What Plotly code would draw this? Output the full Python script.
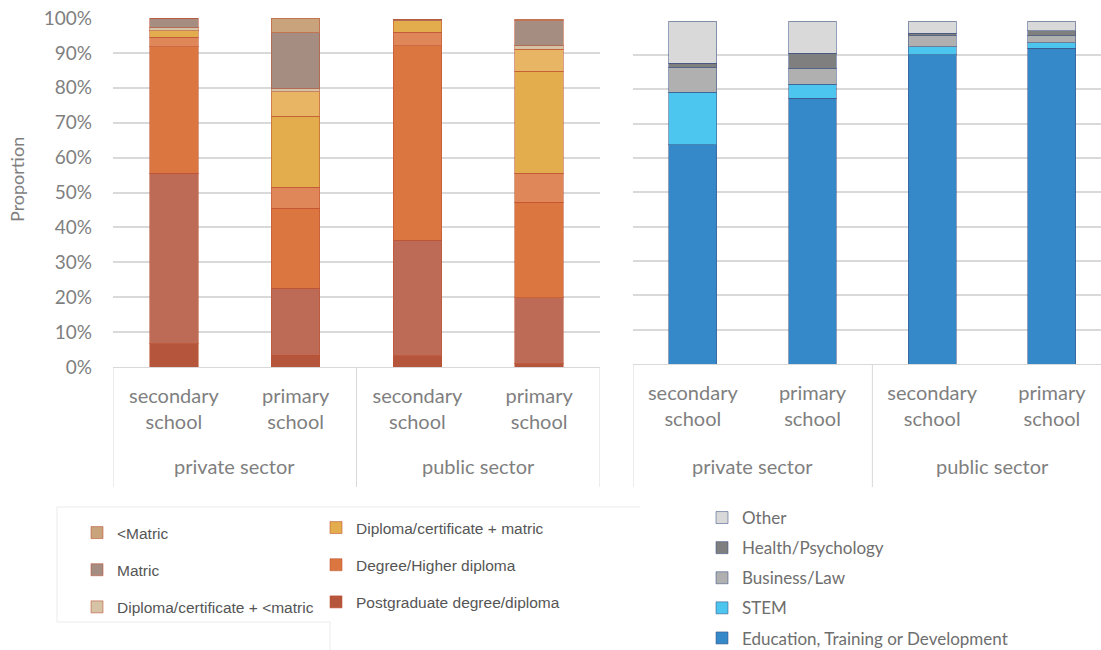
import plotly.graph_objects as go

# ---- categories -------------------------------------------------------------
sectors = ["private sector", "private sector", "public sector", "public sector"]
schools = ["secondary<br>school", "primary<br>school", "secondary<br>school", "primary<br>school"]

# ---- highest qualification shares (%), stacked bottom to top ----------------
postgrad = [6.6, 3.4, 3.2, 0.9]
postgrad_b = [48.9, 19.1, 33.1, 18.9]
degree = [36.3, 23.0, 55.7, 27.4]
degree_b = [2.7, 6.0, 3.9, 8.3]
dip_matric = [1.8, 20.4, 3.3, 29.3]
dip_matric_b = [0.0, 7.0, 0.0, 6.2]
dip_below = [0.9, 0.9, 0.0, 1.1]
matric = [2.8, 16.0, 0.5, 7.1]
below_matric = [0.0, 4.2, 0.0, 0.5]

# ---- field of study shares (%), stacked bottom to top -----------------------
education = [63.8, 77.4, 90.0, 91.9]
stem = [15.3, 4.1, 2.4, 1.6]
business = [7.3, 4.6, 3.1, 2.1]
health = [1.1, 4.3, 0.8, 1.4]
other = [12.3, 9.4, 3.5, 2.8]

W, H = 1101, 650
GRID = "#d9d9d9"
TICK = "#7f7f7f"
FONT = "Lato"

# unique category keys; the visible tick text is the school label
keys = [f"{s} | {c}" for s, c in zip(sectors, schools)]

fig = go.Figure()

qual_series = [
    # (name, values, bar colour, legend, group, shown in legend)
    ("Postgraduate degree/diploma", postgrad, "#b5553b", "legend2", "pg", True),
    ("Postgraduate degree/diploma", postgrad_b, "#bd6b56", "legend2", "pg", False),
    ("Degree/Higher diploma", degree, "#dc7640", "legend2", "deg", True),
    ("Degree/Higher diploma", degree_b, "#e0875a", "legend2", "deg", False),
    ("Diploma/certificate + matric", dip_matric, "#e3ad4d", "legend2", "dm", True),
    ("Diploma/certificate + matric", dip_matric_b, "#e7b564", "legend2", "dm", False),
    ("Diploma/certificate + <matric", dip_below, "#d6c2a4", "legend", "db", True),
    ("Matric", matric, "#a58d82", "legend", "mat", True),
    ("<Matric", below_matric, "#c9a37c", "legend", "bm", True),
]
for i, (name, vals, col, leg, grp, show) in enumerate(qual_series):
    fig.add_trace(go.Bar(
        x=keys, y=vals, name=name, legend=leg, legendgroup=grp, showlegend=show,
        legendrank=100 - i,
        marker=dict(color=col, line=dict(color="rgba(190,80,50,0.55)", width=1)),
        xaxis="x", yaxis="y",
    ))

field_series = [
    ("Education, Training or Development", education, "#3589c9"),
    ("STEM", stem, "#4cc6ef"),
    ("Business/Law", business, "#b0b0b0"),
    ("Health/Psychology", health, "#7f7f7f"),
    ("Other", other, "#d9d9d9"),
]
for i, (name, vals, col) in enumerate(field_series):
    fig.add_trace(go.Bar(
        x=keys, y=vals, name=name, legend="legend3", legendgroup=name,
        legendrank=100 - i,
        marker=dict(color=col, line=dict(color="rgba(60,80,130,0.55)", width=1)),
        xaxis="x2", yaxis="y2",
    ))

xcommon = dict(
    type="category", categoryorder="array", categoryarray=keys,
    tickvals=keys, ticktext=schools, ticks="", ticklabelstandoff=11,
    showline=True, linecolor=GRID, linewidth=1, showgrid=False, zeroline=False,
    tickfont=dict(family=FONT, size=20, color=TICK), fixedrange=True,
    automargin=False,
)
ycommon = dict(
    range=[0, 100], dtick=10, showgrid=True, gridcolor=GRID, gridwidth=1.5,
    zeroline=False, showline=False, fixedrange=True, automargin=False,
)

AX_BOTTOM = {"x": 367, "x2": 364}
BOX_BOTTOM = 487
X_RANGES = {"x": [-0.5, 3.5], "x2": [-0.5, 3.41]}

# group boundaries and group centres along the category axis
bounds = [-0.5]
for i in range(1, len(sectors)):
    if sectors[i] != sectors[i - 1]:
        bounds.append(i - 0.5)
bounds.append(len(sectors) - 0.5)
group_names = []
group_centres = []
for s in dict.fromkeys(sectors):
    idx = [i for i, v in enumerate(sectors) if v == s]
    group_names.append(s)
    group_centres.append(sum(idx) / len(idx))

shapes = []
annotations = []
for ax in ("x", "x2"):
    lo, hi = X_RANGES[ax]
    for b in bounds:
        if lo <= b <= hi:
            shapes.append(dict(type="line", xref=ax, yref="paper", x0=b, x1=b,
                               y0=1 - AX_BOTTOM[ax] / H, y1=1 - BOX_BOTTOM / H,
                               line=dict(color=GRID, width=1)))
    for name, c in zip(group_names, group_centres):
        annotations.append(dict(text=name, x=c, xref=ax, y=1 - 466 / H, yref="paper",
                                xanchor="center", yanchor="middle", showarrow=False,
                                font=dict(family=FONT, size=20, color=TICK)))

annotations.append(dict(
    text="Proportion", textangle=-90, x=17 / W, y=1 - 180 / H,
    xref="paper", yref="paper", xanchor="center", yanchor="middle", showarrow=False,
    font=dict(family=FONT, size=18, color=TICK),
))

# faint frame around the qualification legend
frame = "#ebebeb"
for x0, y0, x1, y1 in [(57, 507, 640, 507), (57, 507, 57, 622),
                       (57, 622, 330, 622), (330, 622, 330, 650)]:
    shapes.append(dict(type="line", xref="paper", yref="paper",
                       x0=x0 / W, x1=x1 / W, y0=1 - y0 / H, y1=1 - y1 / H,
                       line=dict(color=frame, width=1)))

legend_common = dict(xanchor="left", yanchor="top", traceorder="grouped",
                     bgcolor="rgba(0,0,0,0)")

fig.update_layout(
    width=W, height=H,
    margin=dict(l=0, r=0, t=0, b=0, autoexpand=False),
    paper_bgcolor="white", plot_bgcolor="white",
    barmode="stack", bargap=0.6,
    font=dict(family=FONT, color=TICK),
    xaxis=dict(domain=[113 / W, 600 / W], anchor="y", range=X_RANGES["x"], **xcommon),
    yaxis=dict(domain=[1 - 367 / H, 1 - 18 / H], anchor="x", ticksuffix="%",
               tickfont=dict(family=FONT, size=19, color=TICK),
               ticklabelstandoff=20, **ycommon),
    xaxis2=dict(domain=[633 / W, 1], anchor="y2", range=X_RANGES["x2"], **xcommon),
    yaxis2=dict(domain=[1 - 364 / H, 1 - 20.5 / H], anchor="x2",
                showticklabels=False, **ycommon),
    legend=dict(x=77 / W, y=1 - 516 / H, tracegroupgap=14,
                font=dict(family="Liberation Sans", size=15.5, color="#555555"),
                **legend_common),
    legend2=dict(x=316 / W, y=1 - 511 / H, tracegroupgap=14,
                 font=dict(family="Liberation Sans", size=15.5, color="#555555"),
                 **legend_common),
    legend3=dict(x=702 / W, y=1 - 500 / H, tracegroupgap=5,
                 font=dict(family=FONT, size=17, color="#6e6e6e"),
                 **legend_common),
    annotations=annotations,
    shapes=shapes,
)

fig.write_html("out.html")
